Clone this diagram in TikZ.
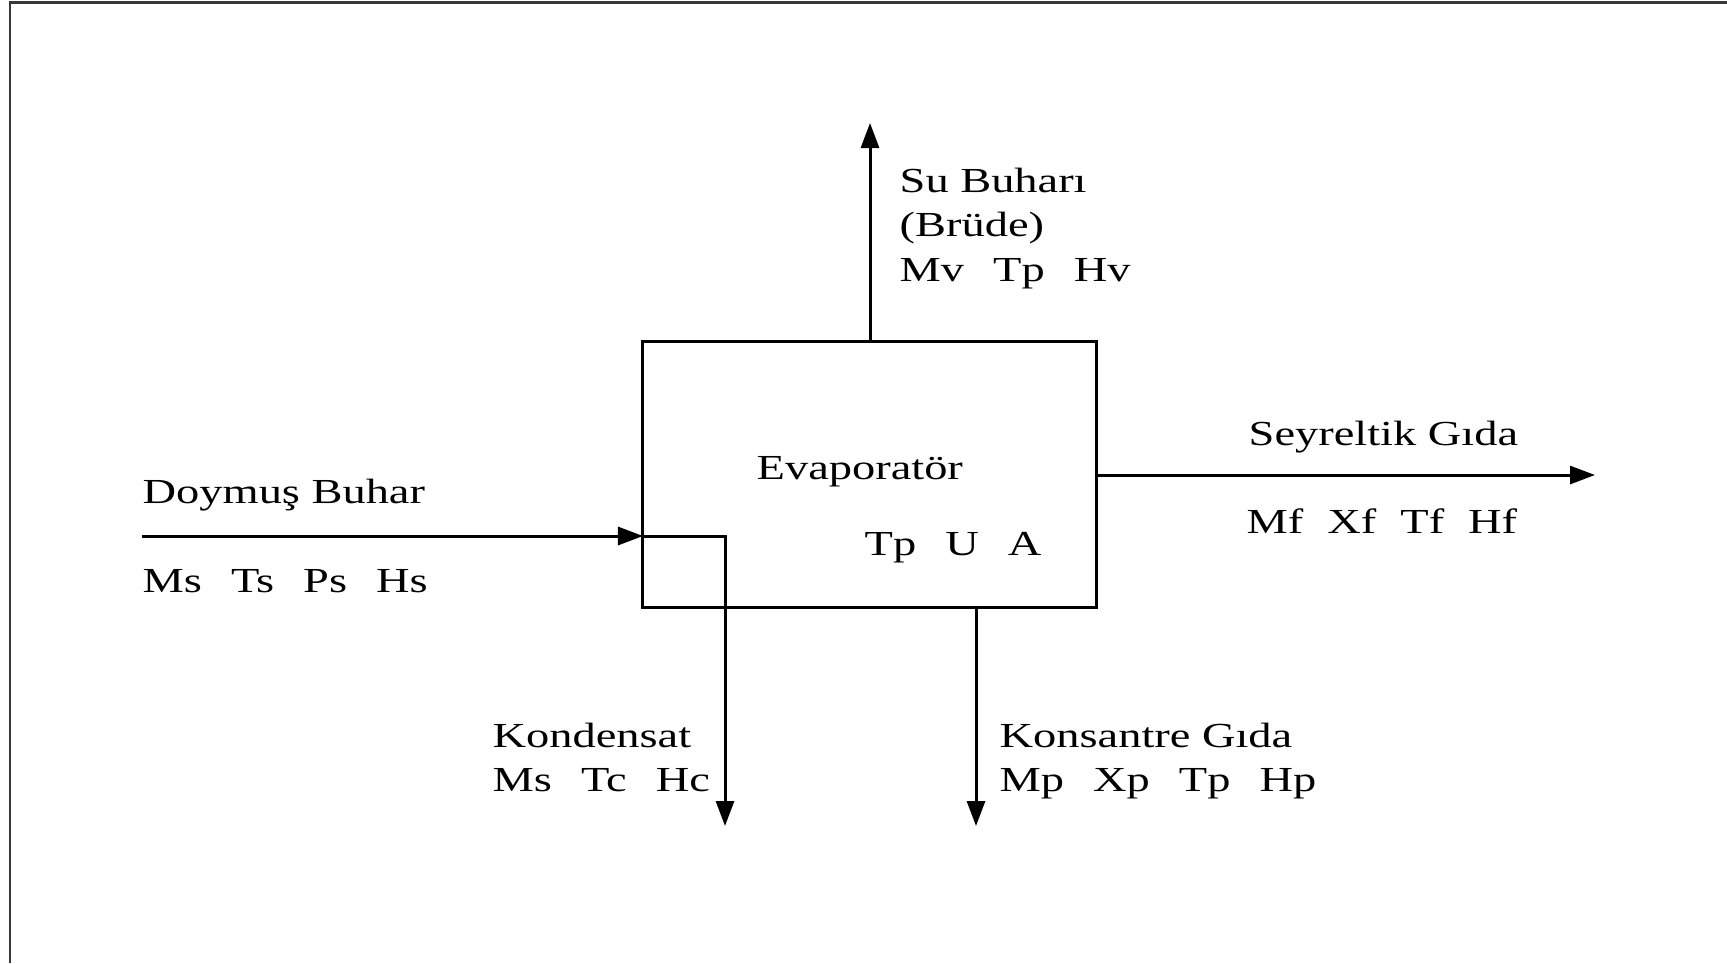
\documentclass[tikz,border=0pt]{standalone}
\usepackage{fontspec}
\setmainfont{Liberation Serif}[FakeStretch=1.32]
\usetikzlibrary{arrows.meta}
\newcommand{\gp}{\hspace{0.29cm}}
\begin{document}
\begin{tikzpicture}[x=0.01cm,y=-0.01cm,
  lbl/.style={anchor=base west,inner sep=0pt,font=\fontsize{10pt}{12.5pt}\selectfont},
  flow/.style={line width=0.85pt,-{Triangle[length=0.25cm,width=0.18cm]}},
  frameline/.style={line width=0.85pt,draw=black!78}]
\useasboundingbox (0,0) rectangle (1727,963);
\fill[white] (0,0) rectangle (1727,963);
\draw[frameline] (10,963) -- (10,2) -- (1727,2);
% evaporator box
\node[draw,line width=0.85pt,inner sep=0pt,minimum width=4.53cm,minimum height=2.65cm] (evap) at (869.5,474.5) {};
% coordinates
\coordinate (vtop) at (870,123);
\coordinate (vbot) at (870,342);
\coordinate (sin) at (142,536);
\coordinate (cin) at (643,536);
\coordinate (cbend) at (725,536);
\coordinate (cout) at (725,826);
\coordinate (fin) at (1096,475);
\coordinate (fout) at (1595,475);
\coordinate (pin) at (976,607);
\coordinate (pout) at (976,826);
% flows
\draw[flow] (vbot) -- (vtop);
\draw[flow] (sin) -- (cin);
\draw[flow] (cin) -- (cbend) -- (cout);
\draw[flow] (fin) -- (fout);
\draw[flow] (pin) -- (pout);
% labels
\node[lbl] (su1) at (899,192) {Su Buharı};
\node[lbl] (su2) at (899,236) {(Brüde)};
\node[lbl] (su3) at (899,281) {Mv\gp Tp\gp Hv};
\node[lbl] (ev1) at (756,479) {Evaporatör};
\node[lbl] (ev2) at (864,555) {Tp\gp U\gp A};
\node[lbl] (db1) at (142,503) {Doymuş Buhar};
\node[lbl] (db2) at (142,592) {Ms\gp Ts\gp Ps\gp Hs};
\node[lbl] (sg1) at (1248,445) {Seyreltik Gıda};
\node[lbl] (sg2) at (1246,533) {Mf\hspace{0.24cm}Xf\hspace{0.24cm}Tf\hspace{0.24cm}Hf};
\node[lbl] (kd1) at (492,747) {Kondensat};
\node[lbl] (kd2) at (492,791) {Ms\gp Tc\gp Hc};
\node[lbl] (kg1) at (999,747) {Konsantre Gıda};
\node[lbl] (kg2) at (999,791) {Mp\gp Xp\gp Tp\gp Hp};
\end{tikzpicture}
\end{document}
